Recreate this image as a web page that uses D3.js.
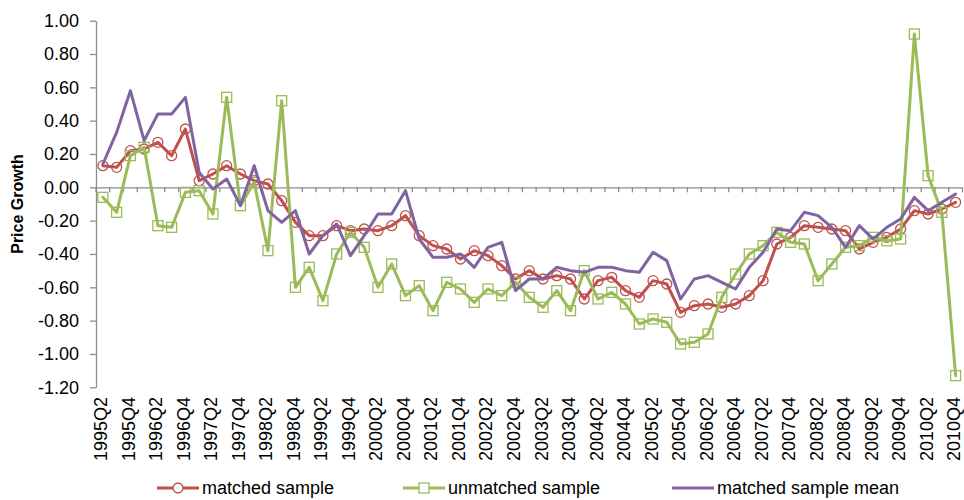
<!DOCTYPE html>
<html>
<head>
<meta charset="utf-8">
<script src="https://cdn.jsdelivr.net/npm/d3@7/dist/d3.min.js"></script>
<style>
  html, body { margin: 0; padding: 0; background: #fff; }
  svg { display: block; }
</style>
</head>
<body>
<svg id="chart" width="964" height="500"></svg>
<script>
const quarters = [
  "1995Q2","1995Q3","1995Q4","1996Q1","1996Q2","1996Q3","1996Q4",
  "1997Q1","1997Q2","1997Q3","1997Q4","1998Q1","1998Q2","1998Q3","1998Q4",
  "1999Q1","1999Q2","1999Q3","1999Q4","2000Q1","2000Q2","2000Q3","2000Q4",
  "2001Q1","2001Q2","2001Q3","2001Q4","2002Q1","2002Q2","2002Q3","2002Q4",
  "2003Q1","2003Q2","2003Q3","2003Q4","2004Q1","2004Q2","2004Q3","2004Q4",
  "2005Q1","2005Q2","2005Q3","2005Q4","2006Q1","2006Q2","2006Q3","2006Q4",
  "2007Q1","2007Q2","2007Q3","2007Q4","2008Q1","2008Q2","2008Q3","2008Q4",
  "2009Q1","2009Q2","2009Q3","2009Q4","2010Q1","2010Q2","2010Q3","2010Q4"
];

const matchedSample = [
  0.13, 0.12, 0.22, 0.23, 0.27, 0.19, 0.35,
  0.04, 0.08, 0.13, 0.08, 0.04, 0.02, -0.08, -0.21,
  -0.29, -0.29, -0.23, -0.26, -0.25, -0.26, -0.23, -0.17,
  -0.29, -0.35, -0.37, -0.43, -0.38, -0.41, -0.47, -0.55,
  -0.50, -0.55, -0.53, -0.55, -0.67, -0.56, -0.54, -0.62,
  -0.66, -0.56, -0.58, -0.75, -0.71, -0.70, -0.72, -0.70,
  -0.65, -0.56, -0.34, -0.30, -0.23, -0.24, -0.25, -0.26,
  -0.37, -0.33, -0.30, -0.25, -0.14, -0.16, -0.13, -0.09
];

const unmatchedSample = [
  -0.06, -0.15, 0.19, 0.24, -0.23, -0.24, -0.03,
  -0.02, -0.16, 0.54, -0.11, 0.03, -0.38, 0.52, -0.60,
  -0.48, -0.68, -0.40, -0.27, -0.36, -0.60, -0.46, -0.65,
  -0.59, -0.74, -0.57, -0.61, -0.69, -0.61, -0.65, -0.57,
  -0.66, -0.72, -0.62, -0.74, -0.50, -0.67, -0.63, -0.70,
  -0.82, -0.79, -0.81, -0.94, -0.93, -0.88, -0.66, -0.52,
  -0.40, -0.35, -0.27, -0.33, -0.34, -0.56, -0.46, -0.36,
  -0.35, -0.30, -0.32, -0.31, 0.92, 0.07, -0.15, -1.13
];

const matchedSampleMean = [
  0.14, 0.33, 0.58, 0.28, 0.44, 0.44, 0.54,
  0.09, -0.01, 0.05, -0.11, 0.13, -0.14, -0.21, -0.14,
  -0.40, -0.29, -0.22, -0.41, -0.29, -0.16, -0.16, -0.02,
  -0.31, -0.42, -0.42, -0.40, -0.48, -0.36, -0.33, -0.62,
  -0.55, -0.55, -0.48, -0.50, -0.51, -0.48, -0.48, -0.50,
  -0.51, -0.39, -0.44, -0.67, -0.55, -0.53, -0.57, -0.61,
  -0.48, -0.39, -0.25, -0.26, -0.15, -0.17, -0.24, -0.36,
  -0.23, -0.31, -0.24, -0.19, -0.06, -0.14, -0.09, -0.04
];

const yTicks = [-1.2, -1.0, -0.8, -0.6, -0.4, -0.2, 0.0, 0.2, 0.4, 0.6, 0.8, 1.0];
const xLabels = quarters.filter((q, i) => i % 2 === 0);

const series = [
  { name: "matched sample", values: matchedSample, color: "#C0504D", marker: "circle" },
  { name: "unmatched sample", values: unmatchedSample, color: "#9BBB59", marker: "square" },
  { name: "matched sample mean", values: matchedSampleMean, color: "#8064A2", marker: "none" }
];

const svg = d3.select("#chart");
const axisColor = "#8c8c8c";
const font = "Liberation Sans";
const fontSize = 18;

const x = d3.scaleBand().domain(quarters).range([96, 962.5]).padding(0);
const y = d3.scaleLinear().domain([-1.2, 1.0]).range([387.3, 20.7]);
const cx = q => x(q) + x.bandwidth() / 2;

// Y axis
const yAxis = svg.append("g")
  .attr("transform", "translate(96,0)")
  .call(d3.axisLeft(y).tickValues(yTicks).tickSize(6).tickSizeOuter(0).tickPadding(11)
    .tickFormat(d3.format(".2f")));
yAxis.attr("font-family", font).attr("font-size", fontSize);
yAxis.select(".domain").attr("stroke", axisColor).attr("stroke-width", 1.3);
yAxis.selectAll(".tick line").attr("stroke", axisColor).attr("stroke-width", 1.3);
yAxis.selectAll(".tick text")
  .attr("fill", "#000")
  .text(d => d3.format(".2f")(d).replace("\u2212", "-"));

// X axis at zero
const xAxis = svg.append("g")
  .attr("transform", `translate(0,${y(0)})`)
  .call(d3.axisBottom(x).tickSize(0).tickFormat(""));
xAxis.select(".domain").attr("stroke", axisColor).attr("stroke-width", 1.3);
xAxis.selectAll(".tick").remove();
const boundaries = quarters.map(q => x(q)).concat([x(quarters[quarters.length - 1]) + x.bandwidth()]);
xAxis.selectAll("line.btick")
  .data(boundaries)
  .enter().append("line")
  .attr("class", "btick")
  .attr("x1", d => d).attr("x2", d => d)
  .attr("y1", 0).attr("y2", 5)
  .attr("stroke", axisColor).attr("stroke-width", 1.3);

// X tick labels at the bottom
svg.append("g")
  .attr("font-family", font)
  .attr("font-size", fontSize)
  .selectAll("text")
  .data(xLabels)
  .enter().append("text")
  .attr("transform", d => `translate(${cx(d)},397) rotate(-90)`)
  .attr("text-anchor", "end")
  .attr("dy", "0.25em")
  .attr("fill", "#000")
  .text(d => d);

// Y axis title
svg.append("text")
  .attr("transform", `translate(23,${(y(1.0) + y(-1.2)) / 2}) rotate(-90)`)
  .attr("text-anchor", "middle")
  .attr("font-family", font)
  .attr("font-weight", "bold")
  .attr("font-size", 16)
  .attr("fill", "#000")
  .text("Price Growth");

// Lines and markers
const line = d3.line()
  .x((d, i) => cx(quarters[i]))
  .y(d => y(d));

series.forEach(s => {
  const g = svg.append("g");
  g.append("path")
    .datum(s.values)
    .attr("d", line)
    .attr("fill", "none")
    .attr("stroke", s.color)
    .attr("stroke-width", 3)
    .attr("stroke-linejoin", "round")
    .attr("stroke-linecap", "round");
  if (s.marker === "circle") {
    g.selectAll("circle")
      .data(s.values)
      .enter().append("circle")
      .attr("cx", (d, i) => cx(quarters[i]))
      .attr("cy", d => y(d))
      .attr("r", 5)
      .attr("fill", "none")
      .attr("stroke", s.color)
      .attr("stroke-width", 1.3);
  } else if (s.marker === "square") {
    g.selectAll("rect")
      .data(s.values)
      .enter().append("rect")
      .attr("x", (d, i) => cx(quarters[i]) - 5)
      .attr("y", d => y(d) - 5)
      .attr("width", 10)
      .attr("height", 10)
      .attr("fill", "none")
      .attr("stroke", s.color)
      .attr("stroke-width", 1.3);
  }
});

// Legend
const legendX = [157, 403, 672];
const legendY = 488;
series.forEach((s, i) => {
  const lg = svg.append("g").attr("transform", `translate(${legendX[i]},${legendY})`);
  lg.append("line")
    .attr("x1", 0).attr("x2", 42).attr("y1", 0).attr("y2", 0)
    .attr("stroke", s.color).attr("stroke-width", 3);
  if (s.marker === "circle") {
    lg.append("circle").attr("cx", 21).attr("cy", 0).attr("r", 5)
      .attr("fill", "#fff").attr("stroke", s.color).attr("stroke-width", 1.3);
  } else if (s.marker === "square") {
    lg.append("rect").attr("x", 16).attr("y", -5).attr("width", 10).attr("height", 10)
      .attr("fill", "#fff").attr("stroke", s.color).attr("stroke-width", 1.3);
  }
  lg.append("text")
    .attr("x", 45).attr("y", 0).attr("dy", "0.35em")
    .attr("font-family", font)
    .attr("font-size", fontSize).attr("fill", "#000")
    .text(s.name);
});
</script>
</body>
</html>
